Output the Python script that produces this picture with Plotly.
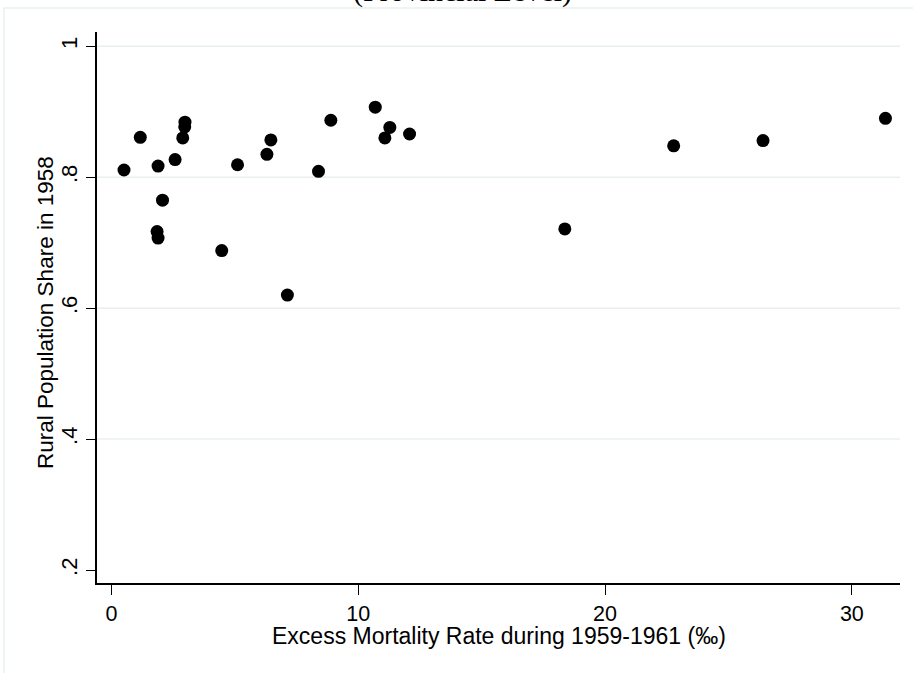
import plotly.graph_objects as go

# Data
excess_mortality = [0.51, 1.17, 1.85, 1.89, 1.89, 2.07, 2.58, 2.89, 2.97, 2.98,
                    4.47, 5.11, 6.30, 6.46, 7.13, 8.39, 8.89, 10.69, 11.08, 11.28,
                    12.08, 18.37, 22.78, 26.40, 31.36]
rural_share = [0.811, 0.861, 0.717, 0.707, 0.817, 0.765, 0.827, 0.860, 0.877, 0.884,
               0.688, 0.819, 0.835, 0.857, 0.620, 0.809, 0.887, 0.907, 0.860, 0.876,
               0.866, 0.721, 0.848, 0.856, 0.890]

y_tick_vals = [0.2, 0.4, 0.6, 0.8, 1.0]
y_tick_text = [".2", ".4", ".6", ".8", "1"]
y_grid_vals = [0.4, 0.6, 0.8, 1.0]
x_tick_vals = [0, 10, 20, 30]
x_tick_text = ["0", "10", "20", "30"]

title_text = "(Provincial Level)"
x_title = "Excess Mortality Rate during 1959-1961 (‰)"
y_title = "Rural Population Share in 1958"

W, H = 913, 673
ML, MR, MT, MB = 97, 13, 32, 90
PW, PH = W - ML - MR, H - MT - MB


def px_x(p):
    return (p - ML) / PW


def px_y(p):
    return (MT + PH - p) / PH


AXIS_FONT = "Liberation Sans, Arial, sans-serif"
GRID = "#e9eff1"

fig = go.Figure()
fig.add_trace(go.Scatter(
    x=excess_mortality, y=rural_share, mode="markers",
    marker=dict(color="black", size=13, line=dict(width=0)),
    showlegend=False, hoverinfo="x+y",
))

shapes = []
for v in y_grid_vals:
    shapes.append(dict(type="line", xref="paper", yref="y", x0=0, x1=1, y0=v, y1=v,
                       line=dict(color=GRID, width=1.5), layer="below"))
# outer frame (light)
shapes.append(dict(type="rect", xref="paper", yref="paper",
                   x0=px_x(4), x1=px_x(W + 5), y0=px_y(H + 5), y1=px_y(8),
                   line=dict(color=GRID, width=1.5), fillcolor="rgba(0,0,0,0)", layer="below"))

fig.update_layout(
    width=W, height=H,
    margin=dict(l=ML, r=MR, t=MT, b=MB, autoexpand=False),
    plot_bgcolor="white", paper_bgcolor="white",
    font=dict(family=AXIS_FONT, size=22, color="black"),
    shapes=shapes,
    xaxis=dict(
        range=[-0.584, 31.95], tickvals=x_tick_vals, ticktext=x_tick_text,
        showgrid=False, zeroline=False, showline=True, linecolor="black", linewidth=1.5,
        ticks="outside", ticklen=10, tickwidth=1.3, tickcolor="black",
        tickfont=dict(size=21.5), automargin=False,
    ),
    yaxis=dict(
        range=[0.1802, 1.0218], tickvals=y_tick_vals, ticktext=y_tick_text,
        showgrid=False, zeroline=False, showline=True, linecolor="black", linewidth=1.5,
        ticks="outside", ticklen=9, tickwidth=1.3, tickcolor="black",
        tickangle=-90, tickfont=dict(size=22), automargin=False,
    ),
    annotations=[
        dict(text=title_text, xref="paper", yref="paper", x=px_x(462), y=1,
             xanchor="center", yanchor="bottom", yshift=22, showarrow=False,
             font=dict(family="Liberation Serif, Times New Roman, serif", size=30, color="black")),
        dict(text=x_title, xref="paper", yref="paper", x=0.5, y=px_y(636),
             xanchor="center", yanchor="middle", showarrow=False,
             font=dict(size=23)),
        dict(text=y_title, xref="paper", yref="paper", x=px_x(45), y=px_y(313),
             xanchor="center", yanchor="middle", textangle=-90, showarrow=False,
             font=dict(size=22.5)),
    ],
)

fig.write_html("out.html", config={"displayModeBar": False},
               post_script="document.body.style.margin='0';")
